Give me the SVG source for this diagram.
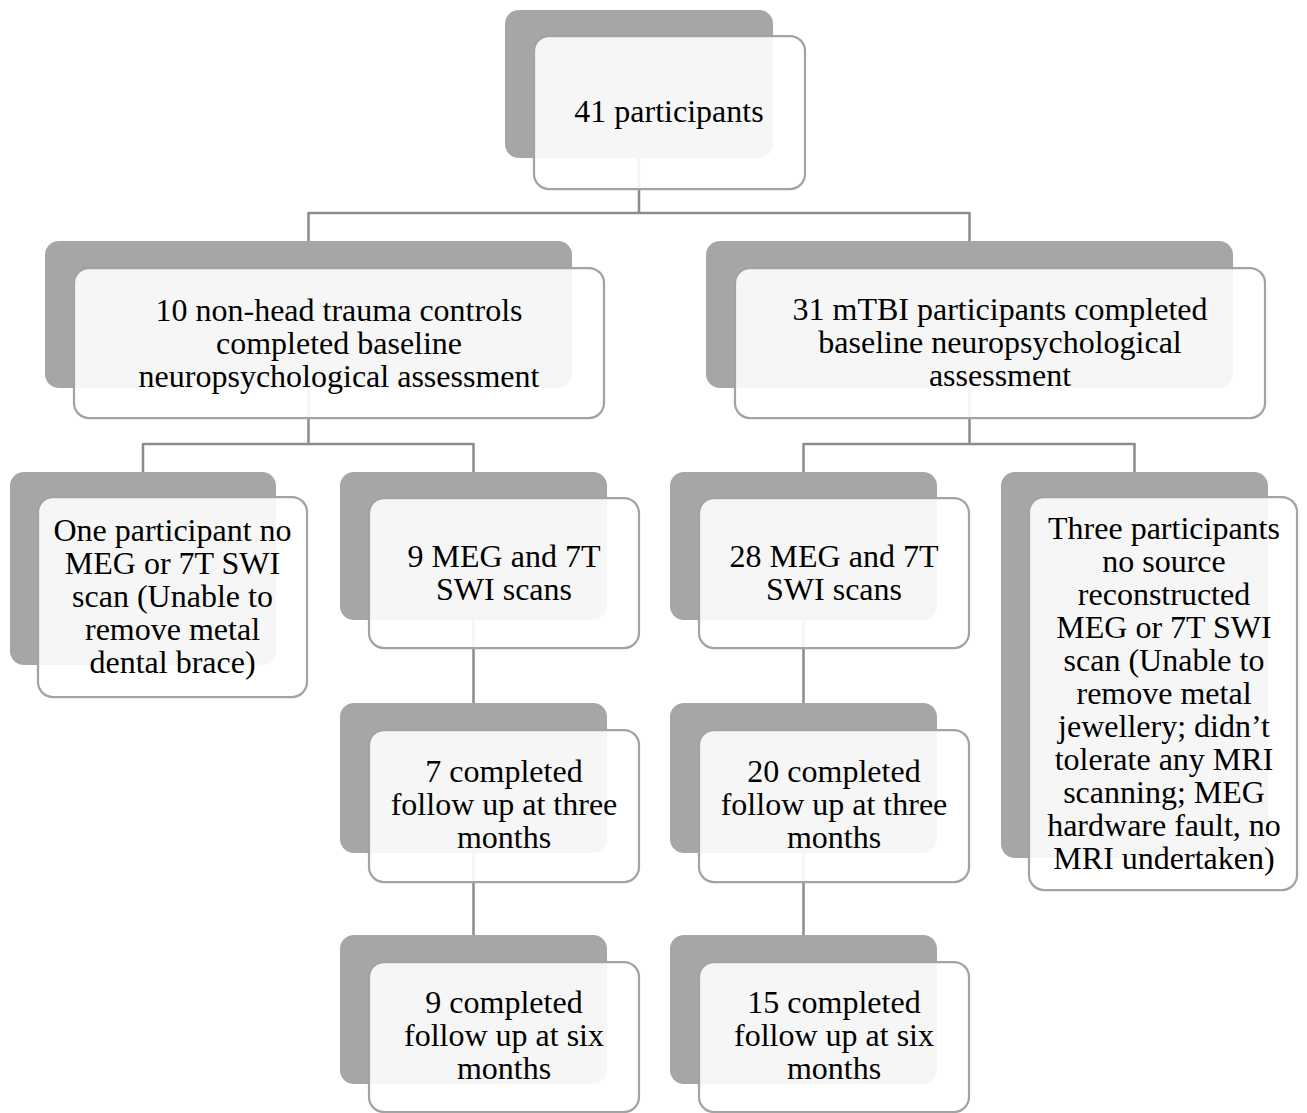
<svg xmlns="http://www.w3.org/2000/svg" width="1307" height="1113" viewBox="0 0 1307 1113">
<style>
.bg{fill:#a6a6a6;}
.fg{fill:#ffffff;fill-opacity:0.9;stroke:#a3a3a3;stroke-width:2.25;}
.lbl{font-family:"Liberation Serif","Times New Roman",serif;font-size:32px;fill:#000000;text-anchor:middle;}
.conn{fill:none;stroke:#8c8c8c;stroke-width:2.5;}
</style>
<rect width="1307" height="1113" fill="#ffffff"/>
<g id="connectors">
<path class="conn" d="M639,158 V213 M308.5,213 H969.5 M308.5,212 V241 M969.5,212 V241"/>
<path class="conn" d="M308.5,388 V444 M143,444 H474 M143,443 V472 M473.5,443 V472"/>
<path class="conn" d="M969.5,388 V444 M803.5,444 H1135 M803.5,443 V472 M1134.5,443 V472"/>
<path class="conn" d="M473.5,620 V703 M473.5,853 V935"/>
<path class="conn" d="M803.5,620 V703 M803.5,853 V935"/>
</g>
<g id="n-top">
<rect class="bg" x="505" y="10" width="268" height="148" rx="14"/>
<rect class="fg" x="534" y="36" width="271" height="153" rx="15"/>
<text class="lbl" x="669" y="122">41 participants</text>
</g>
<g id="n-controls">
<rect class="bg" x="45" y="241" width="527" height="147" rx="14"/>
<rect class="fg" x="74" y="268" width="530" height="150" rx="15"/>
<text class="lbl" x="339"><tspan x="339" y="321">10 non-head trauma controls</tspan><tspan x="339" y="354">completed baseline</tspan><tspan x="339" y="387">neuropsychological assessment</tspan></text>
</g>
<g id="n-mtbi">
<rect class="bg" x="706" y="241" width="527" height="147" rx="14"/>
<rect class="fg" x="735" y="268" width="530" height="150" rx="15"/>
<text class="lbl" x="1000"><tspan x="1000" y="320">31 mTBI participants completed</tspan><tspan x="1000" y="353">baseline neuropsychological</tspan><tspan x="1000" y="386">assessment</tspan></text>
</g>
<g id="n-controls-excluded">
<rect class="bg" x="10" y="472" width="266" height="193" rx="14"/>
<rect class="fg" x="38" y="497" width="269" height="200" rx="15"/>
<text class="lbl" x="172.5"><tspan x="172.5" y="541">One participant no</tspan><tspan x="172.5" y="574">MEG or 7T SWI</tspan><tspan x="172.5" y="607">scan (Unable to</tspan><tspan x="172.5" y="640">remove metal</tspan><tspan x="172.5" y="673">dental brace)</tspan></text>
</g>
<g id="n-controls-scans">
<rect class="bg" x="340" y="472" width="267" height="148" rx="14"/>
<rect class="fg" x="369" y="498" width="270" height="150" rx="15"/>
<text class="lbl" x="504"><tspan x="504" y="567">9 MEG and 7T</tspan><tspan x="504" y="600">SWI scans</tspan></text>
</g>
<g id="n-mtbi-scans">
<rect class="bg" x="670" y="472" width="267" height="148" rx="14"/>
<rect class="fg" x="699" y="498" width="270" height="150" rx="15"/>
<text class="lbl" x="834"><tspan x="834" y="567">28 MEG and 7T</tspan><tspan x="834" y="600">SWI scans</tspan></text>
</g>
<g id="n-mtbi-excluded">
<rect class="bg" x="1001" y="472" width="267" height="386" rx="14"/>
<rect class="fg" x="1029" y="497" width="268" height="393" rx="15"/>
<text class="lbl" x="1164"><tspan x="1164" y="539">Three participants</tspan><tspan x="1164" y="572">no source</tspan><tspan x="1164" y="605">reconstructed</tspan><tspan x="1164" y="638">MEG or 7T SWI</tspan><tspan x="1164" y="671">scan (Unable to</tspan><tspan x="1164" y="704">remove metal</tspan><tspan x="1164" y="737">jewellery; didn’t</tspan><tspan x="1164" y="770">tolerate any MRI</tspan><tspan x="1164" y="803">scanning; MEG</tspan><tspan x="1164" y="836">hardware fault, no</tspan><tspan x="1164" y="869">MRI undertaken)</tspan></text>
</g>
<g id="n-controls-3m">
<rect class="bg" x="340" y="703" width="267" height="150" rx="14"/>
<rect class="fg" x="369" y="730" width="270" height="152" rx="15"/>
<text class="lbl" x="504"><tspan x="504" y="782">7 completed</tspan><tspan x="504" y="815">follow up at three</tspan><tspan x="504" y="848">months</tspan></text>
</g>
<g id="n-mtbi-3m">
<rect class="bg" x="670" y="703" width="267" height="150" rx="14"/>
<rect class="fg" x="699" y="730" width="270" height="152" rx="15"/>
<text class="lbl" x="834"><tspan x="834" y="782">20 completed</tspan><tspan x="834" y="815">follow up at three</tspan><tspan x="834" y="848">months</tspan></text>
</g>
<g id="n-controls-6m">
<rect class="bg" x="340" y="935" width="267" height="149" rx="14"/>
<rect class="fg" x="369" y="962" width="270" height="150" rx="15"/>
<text class="lbl" x="504"><tspan x="504" y="1013">9 completed</tspan><tspan x="504" y="1046">follow up at six</tspan><tspan x="504" y="1079">months</tspan></text>
</g>
<g id="n-mtbi-6m">
<rect class="bg" x="670" y="935" width="267" height="149" rx="14"/>
<rect class="fg" x="699" y="962" width="270" height="150" rx="15"/>
<text class="lbl" x="834"><tspan x="834" y="1013">15 completed</tspan><tspan x="834" y="1046">follow up at six</tspan><tspan x="834" y="1079">months</tspan></text>
</g>
</svg>
